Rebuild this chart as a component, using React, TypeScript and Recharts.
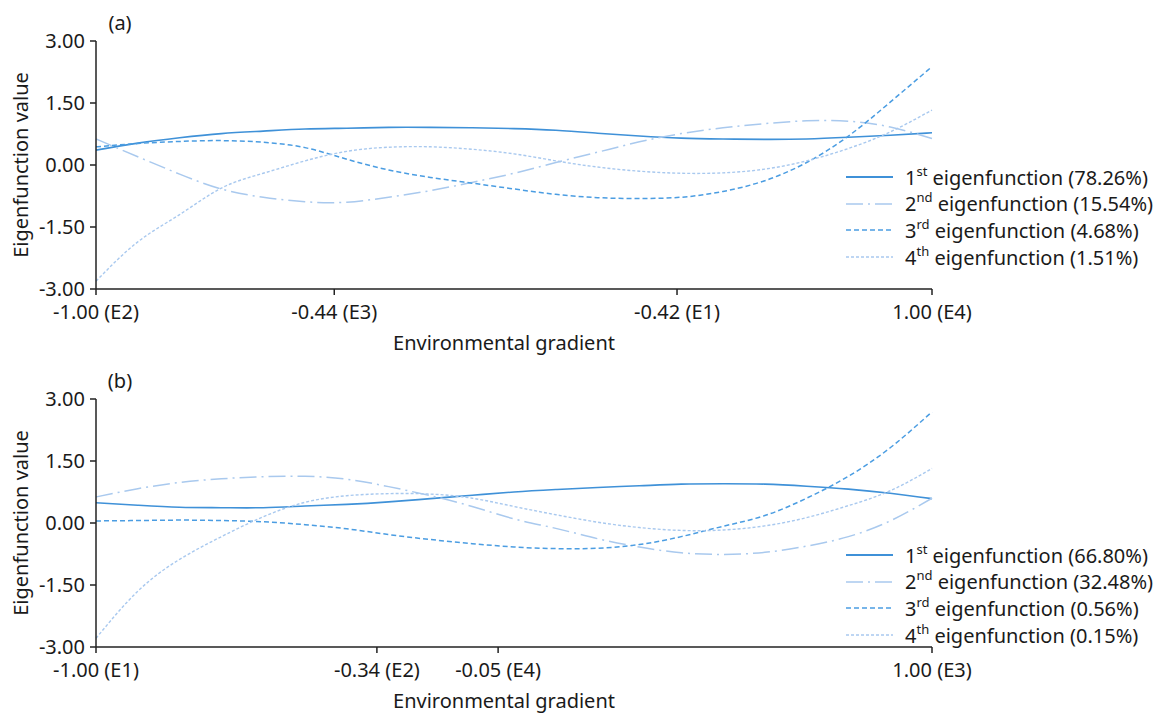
import React from 'react';
import { LineChart, Line, XAxis, YAxis, Legend, Label } from 'recharts';

// environmental gradient positions (x axis is linear from -1 to 1)
const gradientX = [-1, -0.9, -0.8, -0.7, -0.6, -0.5, -0.4, -0.3, -0.2, -0.1, 0, 0.1, 0.2, 0.3, 0.4, 0.5, 0.6, 0.7, 0.8, 0.9, 1];

// Panel (a) eigenfunctions
const aEig1 = [0.36, 0.53, 0.66, 0.76, 0.82, 0.87, 0.89, 0.91, 0.91, 0.9, 0.88, 0.84, 0.77, 0.7, 0.65, 0.63, 0.62, 0.63, 0.67, 0.72, 0.78];
const aEig2 = [0.63, 0.2, -0.22, -0.58, -0.78, -0.89, -0.9, -0.78, -0.62, -0.42, -0.2, 0.06, 0.31, 0.56, 0.76, 0.9, 1.0, 1.07, 1.06, 0.92, 0.64];
const aEig3 = [0.44, 0.52, 0.57, 0.59, 0.55, 0.42, 0.14, -0.12, -0.3, -0.44, -0.58, -0.71, -0.79, -0.81, -0.78, -0.64, -0.38, 0.06, 0.7, 1.52, 2.38];
const aEig4 = [-2.81, -1.86, -1.2, -0.56, -0.2, 0.1, 0.33, 0.43, 0.44, 0.38, 0.27, 0.1, -0.05, -0.15, -0.2, -0.19, -0.1, 0.1, 0.4, 0.8, 1.33];

// Panel (b) eigenfunctions
const bEig1 = [0.49, 0.43, 0.38, 0.37, 0.37, 0.41, 0.45, 0.51, 0.59, 0.67, 0.75, 0.81, 0.86, 0.9, 0.94, 0.95, 0.94, 0.89, 0.82, 0.72, 0.59];
const bEig2 = [0.63, 0.83, 0.98, 1.07, 1.12, 1.13, 1.06, 0.88, 0.66, 0.4, 0.1, -0.13, -0.38, -0.58, -0.72, -0.76, -0.71, -0.56, -0.33, 0.05, 0.6];
const bEig3 = [0.05, 0.06, 0.07, 0.06, 0.03, -0.04, -0.14, -0.28, -0.4, -0.5, -0.58, -0.62, -0.61, -0.52, -0.33, -0.08, 0.18, 0.6, 1.13, 1.82, 2.69];
const bEig4 = [-2.79, -1.65, -0.88, -0.33, 0.15, 0.5, 0.66, 0.71, 0.7, 0.6, 0.4, 0.2, 0.02, -0.11, -0.18, -0.17, -0.07, 0.13, 0.42, 0.78, 1.32];

// x tick positions and labels
const aTickPos = [-1, -0.43, 0.39, 1];
const aTickLabels = ['-1.00 (E2)', '-0.44 (E3)', '-0.42 (E1)', '1.00 (E4)'];
const bTickPos = [-1, -0.328, -0.038, 1];
const bTickLabels = ['-1.00 (E1)', '-0.34 (E2)', '-0.05 (E4)', '1.00 (E3)'];

const yTicks = [-3, -1.5, 0, 1.5, 3];

// legend
const ordNums = ['1', '2', '3', '4'];
const ordSuffix = ['st', 'nd', 'rd', 'th'];
const aPercents = ['78.26%', '15.54%', '4.68%', '1.51%'];
const bPercents = ['66.80%', '32.48%', '0.56%', '0.15%'];

const FONT = '"Noto Sans", sans-serif';
const FS = 20;
const TXT = '#1a1a1a';
const AX = '#222';

const seriesStyle = [
  { key: 'e1', color: '#3f91d8', dash: undefined as string | undefined, width: 1.6 },
  { key: 'e2', color: '#a9c9ee', dash: '17 5 2 5', width: 1.5 },
  { key: 'e3', color: '#4b9de2', dash: '5 3', width: 1.5 },
  { key: 'e4', color: '#a9c9ef', dash: '3 2', width: 1.4 },
];

function buildRows(s1: number[], s2: number[], s3: number[], s4: number[]) {
  return gradientX.map((x, i) => ({ x, e1: s1[i], e2: s2[i], e3: s3[i], e4: s4[i] }));
}

const W = 1161;
const H = 357;

function LegendBox({ percents }: { percents: string[] }) {
  return (
    <div style={{ fontFamily: FONT, fontSize: FS, color: TXT }}>
      {seriesStyle.map((s, i) => (
        <div key={s.key} style={{ display: 'flex', alignItems: 'center', height: 26.6, whiteSpace: 'nowrap' }}>
          <svg width={59} height={10} style={{ flex: 'none' }}>
            <line x1={0} y1={5} x2={47} y2={5} stroke={s.color} strokeWidth={s.width + 0.2} strokeDasharray={s.dash} />
          </svg>
          <span>
            {ordNums[i]}
            <sup style={{ fontSize: 13, verticalAlign: 'top', position: 'relative', top: -2 }}>{ordSuffix[i]}</sup>
            {' eigenfunction (' + percents[i] + ')'}
          </span>
        </div>
      ))}
    </div>
  );
}

function Panel({ letter, rows, tickPos, tickLabels, percents, legendTop }: {
  letter: string; rows: any[]; tickPos: number[]; tickLabels: string[]; percents: string[]; legendTop: number;
}) {
  return (
    <LineChart width={W} height={H} data={rows} margin={{ top: 41, right: 229, bottom: 38, left: 36 }}>
      <XAxis
        dataKey="x"
        type="number"
        domain={[-1, 1]}
        ticks={tickPos}
        interval={0}
        tickFormatter={(v: number) => {
          const idx = tickPos.indexOf(v);
          return idx >= 0 ? tickLabels[idx] : '';
        }}
        height={30}
        tickSize={6}
        tickMargin={10}
        stroke={AX}
        strokeWidth={1.5}
        tick={{ fill: TXT, fontSize: FS, fontFamily: FONT }}
      >
        <Label
          content={() => (
            <text x={504} y={350} textAnchor="middle" fill={TXT} fontSize={FS} fontFamily={FONT}>
              Environmental gradient
            </text>
          )}
        />
      </XAxis>
      <YAxis
        type="number"
        domain={[-3, 3]}
        ticks={yTicks}
        interval={0}
        tickFormatter={(v: number) => v.toFixed(2)}
        width={60}
        tickSize={6}
        tickMargin={5}
        stroke={AX}
        strokeWidth={1.5}
        tick={{ fill: TXT, fontSize: FS, fontFamily: FONT }}
      >
        <Label
          content={() => (
            <g>
              <text x={20} y={165} transform="rotate(-90 20 165)" textAnchor="middle" dominantBaseline="central" fill={TXT} fontSize={FS} fontFamily={FONT}>
                Eigenfunction value
              </text>
              <text x={120} y={22} textAnchor="middle" dominantBaseline="central" fill={TXT} fontSize={FS} fontFamily={FONT}>
                {letter}
              </text>
            </g>
          )}
        />
      </YAxis>
      {seriesStyle.map((s) => (
        <Line
          key={s.key}
          type="natural"
          dataKey={s.key}
          stroke={s.color}
          strokeWidth={s.width}
          strokeDasharray={s.dash}
          dot={false}
          activeDot={false}
          isAnimationActive={false}
        />
      ))}
      <Legend
        layout="horizontal"
        align="center"
        verticalAlign="middle"
        wrapperStyle={{ left: 846, top: legendTop, width: 315 }}
        content={() => <LegendBox percents={percents} />}
      />
    </LineChart>
  );
}

export default function App() {
  const rowsA = buildRows(aEig1, aEig2, aEig3, aEig4);
  const rowsB = buildRows(bEig1, bEig2, bEig3, bEig4);
  return (
    <div style={{ position: 'absolute', left: 0, top: 0, width: W, height: 714, background: '#fff' }}>
      <div style={{ position: 'absolute', left: 0, top: 0 }}>
        <Panel letter="(a)" rows={rowsA} tickPos={aTickPos} tickLabels={aTickLabels} percents={aPercents} legendTop={164} />
      </div>
      <div style={{ position: 'absolute', left: 0, top: 358 }}>
        <Panel letter="(b)" rows={rowsB} tickPos={bTickPos} tickLabels={bTickLabels} percents={bPercents} legendTop={184} />
      </div>
    </div>
  );
}
